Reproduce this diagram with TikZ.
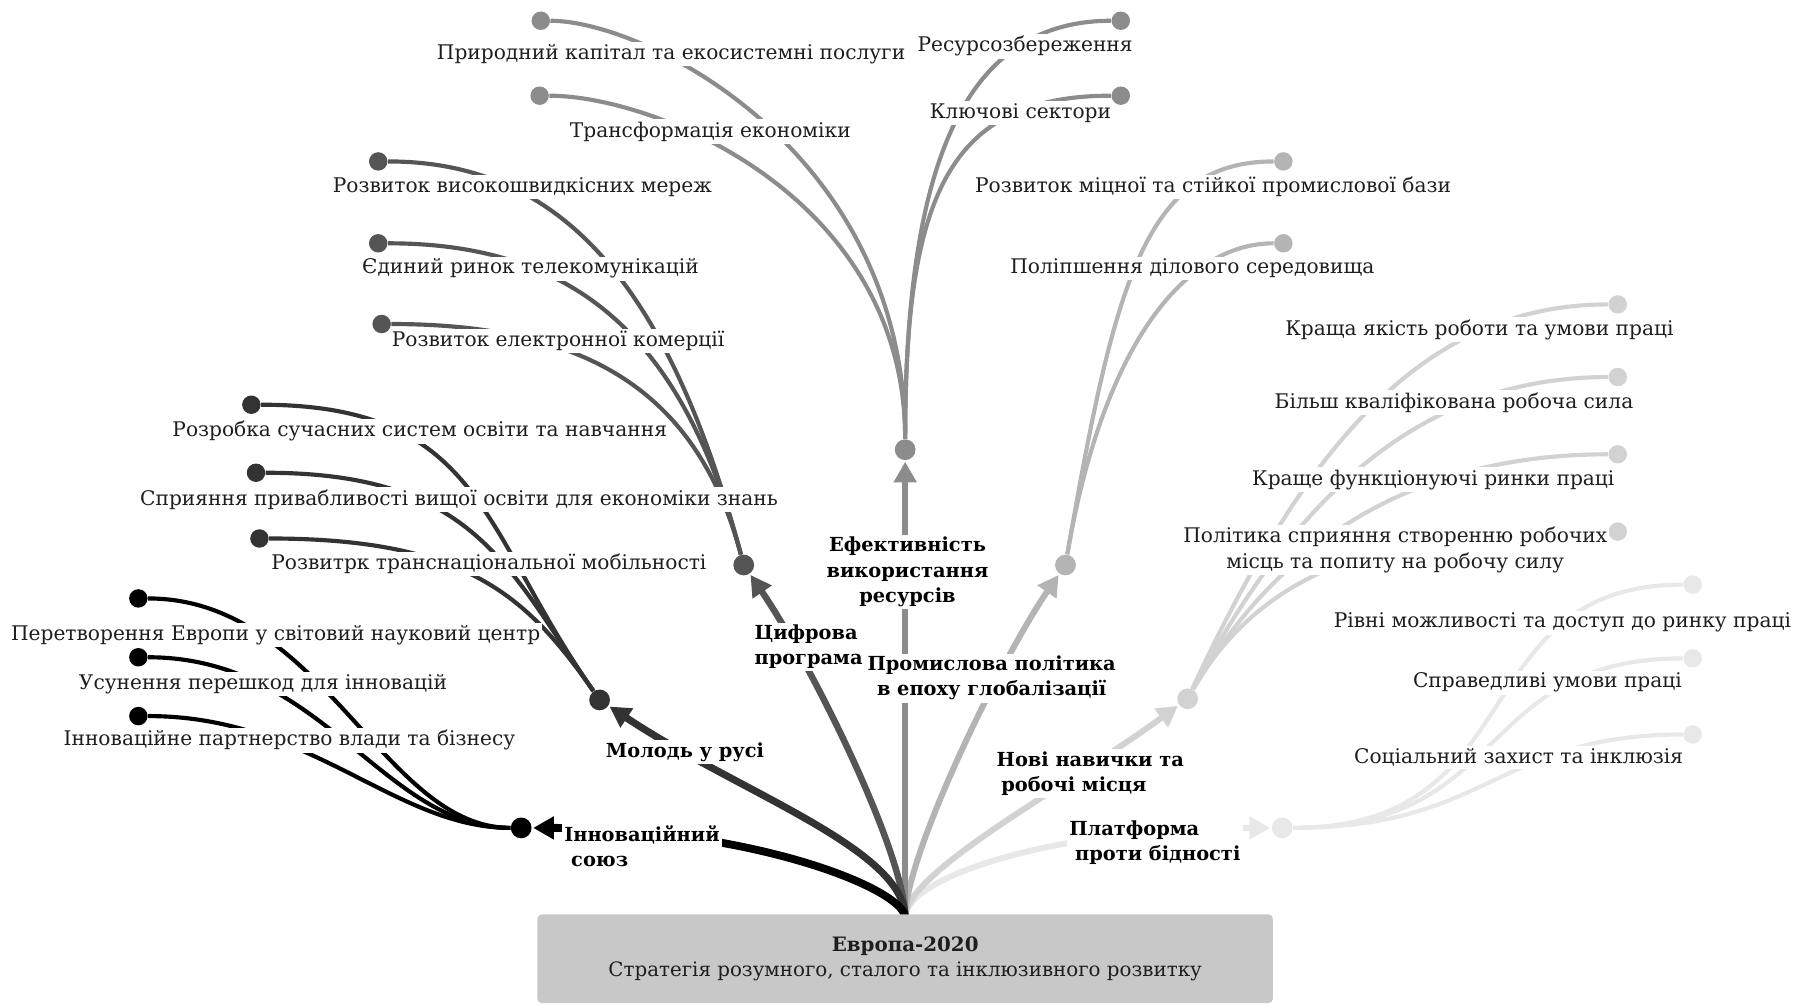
\documentclass[tikz,border=0pt]{standalone}
\usepackage{fontspec}
\setmainfont{DejaVu Serif}
\usetikzlibrary{arrows.meta}
\definecolor{c1}{HTML}{000000}
\definecolor{c2}{HTML}{333333}
\definecolor{c3}{HTML}{555555}
\definecolor{c4}{HTML}{8C8C8C}
\definecolor{c5}{HTML}{B4B4B4}
\definecolor{c6}{HTML}{D2D2D2}
\definecolor{c7}{HTML}{E8E8E8}
\definecolor{boxgray}{HTML}{C8C8C8}
\definecolor{ink}{HTML}{1E1E1E}
\begin{document}
\begin{tikzpicture}[x=0.5pt,y=-0.5pt,
  hub/.style={circle,fill=#1,inner sep=0pt,minimum size=9pt},
  leaf/.style={circle,fill=#1,inner sep=0pt,minimum size=8pt},
  stem/.style={draw=#1,line width=2.6pt,-{Triangle[length=9pt,width=9.5pt]},shorten >=0.5pt},
  twig/.style={draw=#1,line width=1.8pt},
  lbl/.style={fill=white,inner sep=1pt,yshift=-1pt,text=ink,font=\fontsize{8.75}{11}\selectfont,align=center},
  head/.style={fill=white,inner sep=1pt,yshift=-0.5pt,text=black,font=\fontsize{8.4}{11}\selectfont\bfseries},
]
\useasboundingbox (0,0) rectangle (1568,872);

% root of the tree
\coordinate (R) at (785,796);

% hubs of the seven flagship initiatives
\node[hub=c1] (D1) at (452,718) {};
\node[hub=c2] (D2) at (520,607) {};
\node[hub=c3] (D3) at (645,490) {};
\node[hub=c4] (D4) at (785,390) {};
\node[hub=c5] (D5) at (924,490) {};
\node[hub=c6] (D6) at (1030,606) {};
\node[hub=c7] (D7) at (1112,718) {};

% leaf dots
\node[leaf=c1] (L1a) at (120,519) {};
\node[leaf=c1] (L1b) at (120,570) {};
\node[leaf=c1] (L1c) at (120,621) {};
\node[leaf=c2] (L2a) at (218,351) {};
\node[leaf=c2] (L2b) at (222,410) {};
\node[leaf=c2] (L2c) at (225,467) {};
\node[leaf=c3] (L3a) at (328,140) {};
\node[leaf=c3] (L3b) at (328,211) {};
\node[leaf=c3] (L3c) at (331,281) {};
\node[leaf=c4] (L4a) at (469,18) {};
\node[leaf=c4] (L4b) at (468,83) {};
\node[leaf=c4] (L4c) at (972,18) {};
\node[leaf=c4] (L4d) at (972,83) {};
\node[leaf=c5] (L5a) at (1113,140) {};
\node[leaf=c5] (L5b) at (1113,211) {};
\node[leaf=c6] (L6a) at (1403,264) {};
\node[leaf=c6] (L6b) at (1403,327) {};
\node[leaf=c6] (L6c) at (1403,394) {};
\node[leaf=c6] (L6d) at (1403,461) {};
\node[leaf=c7] (L7a) at (1468,507) {};
\node[leaf=c7] (L7b) at (1468,571) {};
\node[leaf=c7] (L7c) at (1468,637) {};

% twigs from hubs to leaves
\draw[twig=c1] (D1) .. controls +(-120,0) and +(160,0) .. (L1a);
\draw[twig=c1] (D1) .. controls +(-120,0) and +(160,0) .. (L1b);
\draw[twig=c1] (D1) .. controls +(-110,0) and +(150,0) .. (L1c);

\draw[twig=c2] (D2) .. controls +(-103,-147) and +(200,0) .. (L2a);
\draw[twig=c2] (D2) .. controls +(-80,-115) and +(190,0) .. (L2b);
\draw[twig=c2] (D2) .. controls +(-63,-90) and +(180,0) .. (L2c);

\draw[twig=c3] (D3) .. controls +(-65,-242) and +(160,0) .. (L3a);
\draw[twig=c3] (D3) .. controls +(-52,-194) and +(175,0) .. (L3b);
\draw[twig=c3] (D3) .. controls +(-39,-145) and +(185,0) .. (L3c);

\draw[twig=c4] (D4) .. controls +(0,-260) and +(90,0) .. (L4a);
\draw[twig=c4] (D4) .. controls +(0,-220) and +(100,0) .. (L4b);
\draw[twig=c4] (D4) .. controls +(0,-260) and +(-130,0) .. (L4c);
\draw[twig=c4] (D4) .. controls +(0,-220) and +(-150,0) .. (L4d);

\draw[twig=c5] (D5) .. controls +(43,-246) and +(-120,0) .. (L5a);
\draw[twig=c5] (D5) .. controls +(33,-192) and +(-85,0) .. (L5b);

\draw[twig=c6] (D6) .. controls +(101,-217) and +(-170,0) .. (L6a);
\draw[twig=c6] (D6) .. controls +(94,-177) and +(-170,0) .. (L6b);
\draw[twig=c6] (D6) .. controls +(85,-147) and +(-165,0) .. (L6c);
\draw[twig=c6] (D6) .. controls +(80,-139) and +(-150,0) .. (L6d);

\draw[twig=c7] (D7) .. controls +(220,0) and +(-200,0) .. (L7a);
\draw[twig=c7] (D7) .. controls +(200,0) and +(-190,0) .. (L7b);
\draw[twig=c7] (D7) .. controls +(180,0) and +(-170,0) .. (L7c);

% main stems from the root, light ones first
\draw[stem=c7] (R) .. controls +(0,-35) and +(-200,0) .. (D7);
\draw[stem=c6] (R) .. controls +(0,-40) and +(-110,80) .. (D6);
\draw[stem=c5] (R) .. controls +(0,-55) and +(-55,80) .. (D5);
\draw[stem=c4] (R) -- (D4);
\draw[stem=c3, line width=2.8pt] (R) .. controls +(0,-55) and +(60,88) .. (D3);
\draw[stem=c2, line width=3.1pt] (R) .. controls +(0,-60) and +(120,80) .. (D2);
\draw[stem=c1, line width=3.4pt] (R) .. controls +(0,-25) and +(200,0) .. (D1);

% base box
\node[fill=boxgray, rounded corners=2pt, minimum width=319pt, minimum height=38.5pt,
      inner sep=0pt, align=center, text=ink, font=\fontsize{8.6}{10.5}\selectfont] (box) at (785,831.5)
  {\textbf{Европа-2020}\\Стратегія розумного, сталого та інклюзивного розвитку};

% flagship labels
\node[head, align=left, anchor=west] (T1) at (487,733) {Інноваційний\\\hspace*{3pt}союз};
\node[head, align=center] (T2) at (594,651) {Молодь у русі};
\node[head, align=left, anchor=west] (T3) at (652,560) {Цифрова\\програма};
\node[head, align=center] (T4) at (787,495) {Ефективність\\використання\\ресурсів};
\node[head, align=center] (T5) at (860,587) {Промислова політика\\в епоху глобалізації};
\node[head, align=left, anchor=west] (T6) at (862,670) {Нові навички та\\\hspace*{2pt}робочі місця};
\node[head, align=left, anchor=west] (T7) at (925,730) {Платформа\\\hspace*{2.5pt}проти бідності};

% leaf labels
\node[lbl] (N1a) at (239,549) {Перетворення Европи у світовий науковий центр};
\node[lbl] (N1b) at (228,591) {Усунення перешкод для інновацій};
\node[lbl] (N1c) at (251,640) {Інноваційне партнерство влади та бізнесу};
\node[lbl] (N2a) at (364,372) {Розробка сучасних систем освіти та навчання};
\node[lbl] (N2b) at (398,431) {Сприяння привабливості вищої освіти для економіки знань};
\node[lbl] (N2c) at (424,487) {Розвитрк транснаціональної мобільності};
\node[lbl] (N3a) at (453,160) {Розвиток високошвидкісних мереж};
\node[lbl] (N3b) at (460,231) {Єдиний ринок телекомунікацій};
\node[lbl] (N3c) at (484,294) {Розвиток електронної комерції};
\node[lbl] (N4a) at (582,45) {Природний капітал та екосистемні послуги};
\node[lbl] (N4b) at (616,112) {Трансформація економіки};
\node[lbl] (N4c) at (889,38) {Ресурсозбереження};
\node[lbl] (N4d) at (885,96) {Ключові сектори};
\node[lbl] (N5a) at (1052,160) {Розвиток міцної та стійкої промислової бази};
\node[lbl] (N5b) at (1034,231) {Поліпшення ділового середовища};
\node[lbl] (N6a) at (1283,284) {Краща якість роботи та умови праці};
\node[lbl] (N6b) at (1261,347) {Більш кваліфікована робоча сила};
\node[lbl] (N6c) at (1243,414) {Краще функціонуючі ринки праці};
\node[lbl] (N6d) at (1210,475) {Політика сприяння створенню робочих\\місць та попиту на робочу силу};
\node[lbl] (N7a) at (1355,538) {Рівні можливості та доступ до ринку праці};
\node[lbl] (N7b) at (1342,590) {Справедливі умови праці};
\node[lbl] (N7c) at (1317,655) {Соціальний захист та інклюзія};
\end{tikzpicture}
\end{document}
